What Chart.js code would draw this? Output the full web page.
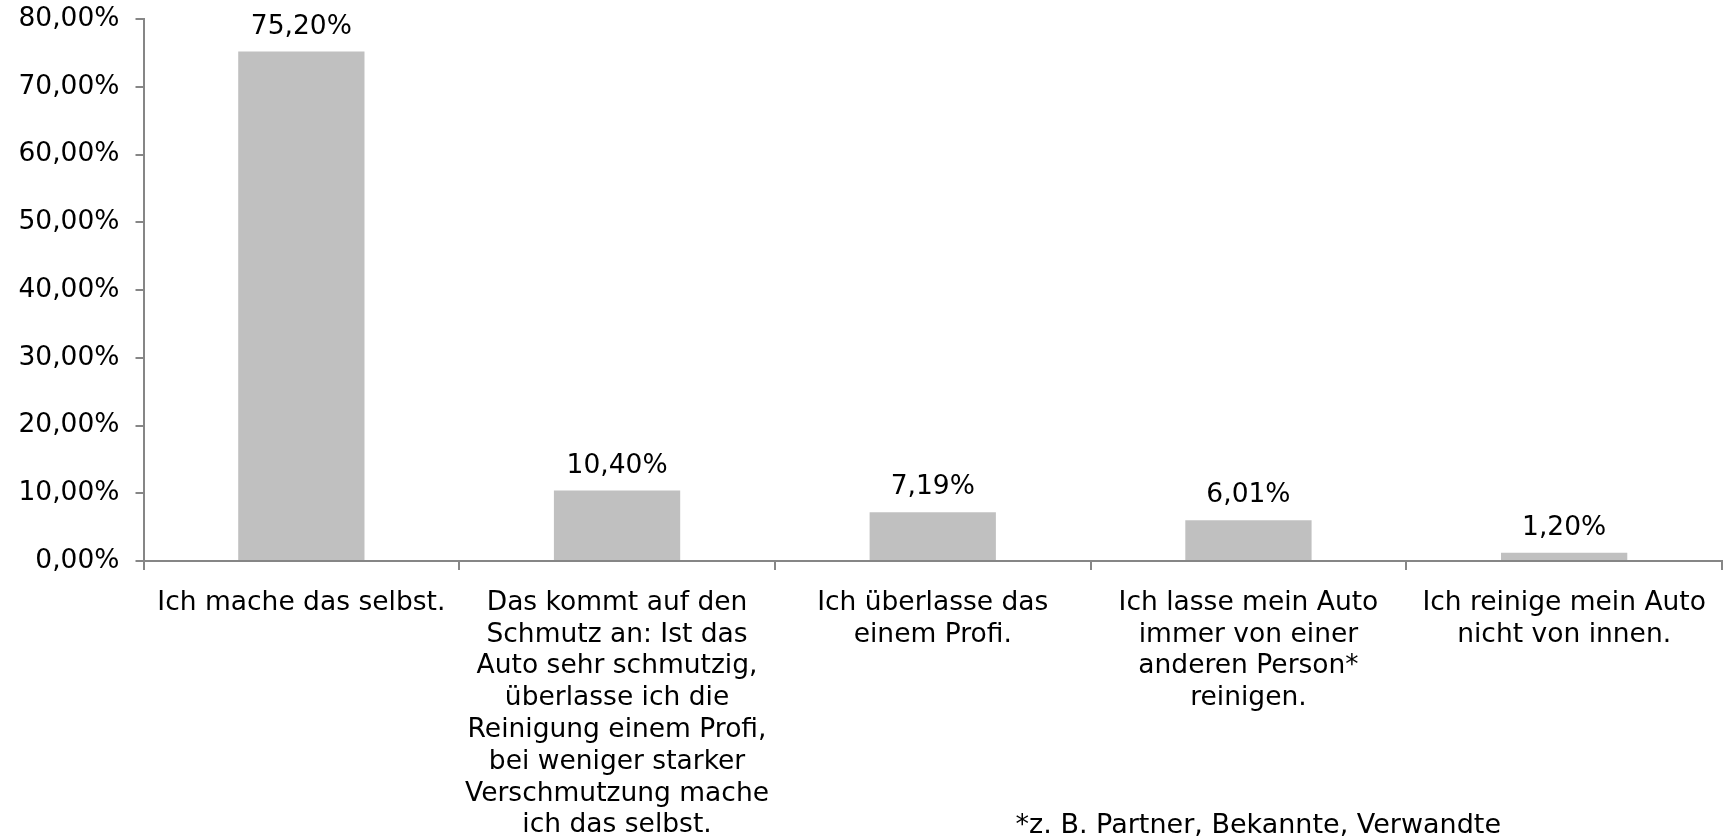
<!DOCTYPE html>
<html>
<head>
<meta charset="utf-8">
<script src="https://cdn.jsdelivr.net/npm/chart.js@4/dist/chart.umd.min.js"></script>
<style>
  html, body { margin: 0; padding: 0; background: #ffffff; }
  #wrap { width: 1725px; height: 837px; position: relative; }
</style>
</head>
<body>
<div id="wrap"><canvas id="c" width="1725" height="837"></canvas></div>
<script>
const categories = [
  ["Ich mache das selbst."],
  ["Das kommt auf den", "Schmutz an: Ist das", "Auto sehr schmutzig,", "überlasse ich die", "Reinigung einem Profi,", "bei weniger starker", "Verschmutzung mache", "ich das selbst."],
  ["Ich überlasse das", "einem Profi."],
  ["Ich lasse mein Auto", "immer von einer", "anderen Person*", "reinigen."],
  ["Ich reinige mein Auto", "nicht von innen."]
];
const values = [75.20, 10.40, 7.19, 6.01, 1.20];
const valueLabels = ["75,20%", "10,40%", "7,19%", "6,01%", "1,20%"];
const yTickLabels = ["0,00%", "10,00%", "20,00%", "30,00%", "40,00%", "50,00%", "60,00%", "70,00%", "80,00%"];
const footnote = "*z. B. Partner, Bekannte, Verwandte";

const FONT = "'DejaVu Sans', Verdana, sans-serif";
const FSIZE = 26.5;
const AXIS = '#868686';

const valueLabelPlugin = {
  id: 'valueLabels',
  afterDatasetsDraw(chart) {
    const ctx = chart.ctx;
    const meta = chart.getDatasetMeta(0);
    ctx.save();
    ctx.font = FSIZE + 'px ' + FONT;
    ctx.fillStyle = '#000000';
    ctx.textAlign = 'center';
    ctx.textBaseline = 'alphabetic';
    meta.data.forEach((bar, i) => {
      ctx.fillText(valueLabels[i], bar.x, bar.y - 18);
    });
    ctx.restore();
  }
};

const footnotePlugin = {
  id: 'footnote',
  afterDraw(chart) {
    const ctx = chart.ctx;
    ctx.save();
    ctx.font = '27px ' + FONT;
    ctx.fillStyle = '#000000';
    ctx.textAlign = 'right';
    ctx.textBaseline = 'alphabetic';
    ctx.fillText(footnote, 1501, 833);
    ctx.restore();
  }
};

new Chart(document.getElementById('c'), {
  type: 'bar',
  data: {
    labels: categories,
    datasets: [{
      data: values,
      backgroundColor: '#c0c0c0',
      borderWidth: 0,
      categoryPercentage: 0.4,
      barPercentage: 1.0
    }]
  },
  plugins: [valueLabelPlugin, footnotePlugin],
  options: {
    responsive: false,
    animation: false,
    devicePixelRatio: 1,
    layout: { padding: { top: 19, right: 3, left: 0, bottom: 0 } },
    plugins: {
      legend: { display: false },
      tooltip: { enabled: false },
      title: { display: false }
    },
    scales: {
      x: {
        offset: true,
        grid: {
          offset: true,
          drawOnChartArea: false,
          drawTicks: true,
          tickLength: 9,
          color: AXIS,
          lineWidth: 2
        },
        border: { display: true, color: AXIS, width: 2 },
        ticks: {
          color: '#000000',
          font: { family: FONT, size: FSIZE, lineHeight: 1.2 },
          maxRotation: 0,
          minRotation: 0,
          autoSkip: false,
          padding: 17
        },
        afterFit(s) { s.height = 276; s.paddingLeft = 0; s.paddingRight = 0; }
      },
      y: {
        min: 0,
        max: 80,
        ticks: {
          stepSize: 10,
          color: '#000000',
          font: { family: FONT, size: FSIZE },
          padding: 16,
          callback: (v, i) => yTickLabels[i]
        },
        grid: {
          drawOnChartArea: false,
          drawTicks: true,
          tickLength: 8,
          color: AXIS,
          lineWidth: 2
        },
        border: { display: true, color: AXIS, width: 2 },
        afterFit(s) { s.width = 143.5; s.paddingTop = 0; s.paddingBottom = 0; }
      }
    }
  }
});
</script>
</body>
</html>
